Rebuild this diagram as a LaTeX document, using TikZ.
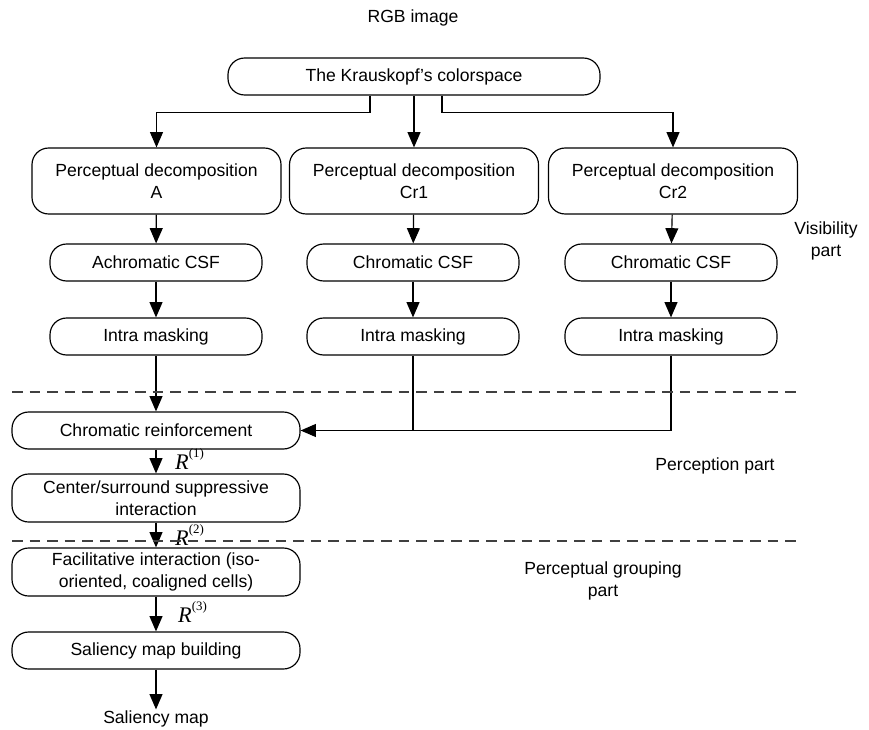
\documentclass[tikz,border=0pt]{standalone}
\usepackage{fontspec}
\setmainfont{Liberation Sans}
\newfontfamily\rfont{Liberation Serif}
\usetikzlibrary{arrows.meta, positioning, calc}

\newcommand{\rstage}[1]{\textit{R}\raisebox{0.5em}{\fontsize{11}{11}\selectfont(#1)}}

\begin{document}
\begin{tikzpicture}[
    % Global Styles
    x=0.03cm, y=-0.03cm,
    font=\fontsize{15}{18.5}\selectfont,
    % Node Styles
    stagebox/.style={
        draw,
        line width=1pt,
        rounded corners=0.5cm,
        align=center,
        inner sep=2pt,
        minimum height=1.11cm
    },
    decobox/.style={
        stagebox,
        minimum width=7.47cm,
        minimum height=1.98cm
    },
    filterbox/.style={
        stagebox,
        minimum width=6.36cm
    },
    chainbox/.style={
        stagebox,
        minimum width=8.64cm
    },
    partlabel/.style={
        align=center
    },
    rlabel/.style={
        anchor=base west,
        inner sep=0pt,
        font=\rfont\fontsize{19}{19}\selectfont
    },
    flow/.style={
        -{Triangle[width=11pt,length=13pt]},
        line width=1pt
    },
    wire/.style={
        line width=1pt
    },
    separator/.style={
        dashed,
        dash pattern=on 9pt off 6pt,
        line width=1pt,
        black!75
    }
]
    \useasboundingbox (0,0) rectangle (869,730);

    % --- Input and colour space ---
    \node (rgb) at (413,18) {RGB image};
    \node[stagebox, minimum width=11.16cm] (kraus) at (414,76.5) {The Krauskopf's colorspace};

    % --- Visibility part ---
    \node[decobox] (decA) at (156.5,181) {Perceptual decomposition\\A};
    \node[decobox] (decB) at (414,181) {Perceptual decomposition\\Cr1};
    \node[decobox] (decC) at (673,181) {Perceptual decomposition\\Cr2};

    \node[filterbox] (csfA) at (156,262.5) {Achromatic CSF};
    \node[filterbox] (csfB) at (413,262.5) {Chromatic CSF};
    \node[filterbox] (csfC) at (671,262.5) {Chromatic CSF};

    \node[filterbox] (maskA) at (156,336.5) {Intra masking};
    \node[filterbox] (maskB) at (413,336.5) {Intra masking};
    \node[filterbox] (maskC) at (671,336.5) {Intra masking};

    \draw[flow] ([xshift=-1.32cm]kraus.south) -- ++(0,17) -| (decA.north);
    \draw[flow] (kraus.south) -- (decB.north);
    \draw[flow] ([xshift=0.84cm]kraus.south) -- ++(0,17) -| (decC.north);

    \draw[flow] (decA) -- (csfA);
    \draw[flow] (decB) -- (csfB);
    \draw[flow] (decC) -- (csfC);
    \draw[flow] (csfA) -- (maskA);
    \draw[flow] (csfB) -- (maskB);
    \draw[flow] (csfC) -- (maskC);

    % --- Perception part ---
    \node[chainbox] (reinf) at (156,430.5) {Chromatic reinforcement};
    \node[chainbox, minimum height=1.44cm] (csi) at (156,498) {Center/surround suppressive\\interaction};

    \draw[flow] (maskA) -- (reinf);
    \draw[flow] (maskC.south) |- (reinf.east);
    \draw[wire] (maskB.south) -- (maskB.south |- reinf.east);
    \draw[flow] (reinf) -- (csi);

    % --- Perceptual grouping part ---
    \node[chainbox, minimum height=1.44cm] (facil) at (156,572) {Facilitative interaction (iso-\\oriented, coaligned cells)};
    \node[chainbox] (build) at (156,650.5) {Saliency map building};
    \node[inner sep=1pt] (salmap) at (156,719) {Saliency map};

    \draw[flow] (csi) -- (facil);
    \draw[flow] (facil) -- (build);
    \draw[flow] (build) -- (salmap);

    \node[rlabel] (r1) at (175,469) {\rstage{1}};
    \node[rlabel] (r2) at (175,545) {\rstage{2}};
    \node[rlabel] (r3) at (178,622) {\rstage{3}};

    % --- Part separators and labels ---
    \draw[separator] (12,392) -- (800,392);
    \draw[separator] (12,541) -- (800,541);

    \node[partlabel] (vis) at (826,241) {Visibility\\part};
    \node[partlabel] (perc) at (715,466) {Perception part};
    \node[partlabel] (group) at (603,581) {Perceptual grouping\\part};

\end{tikzpicture}
\end{document}
